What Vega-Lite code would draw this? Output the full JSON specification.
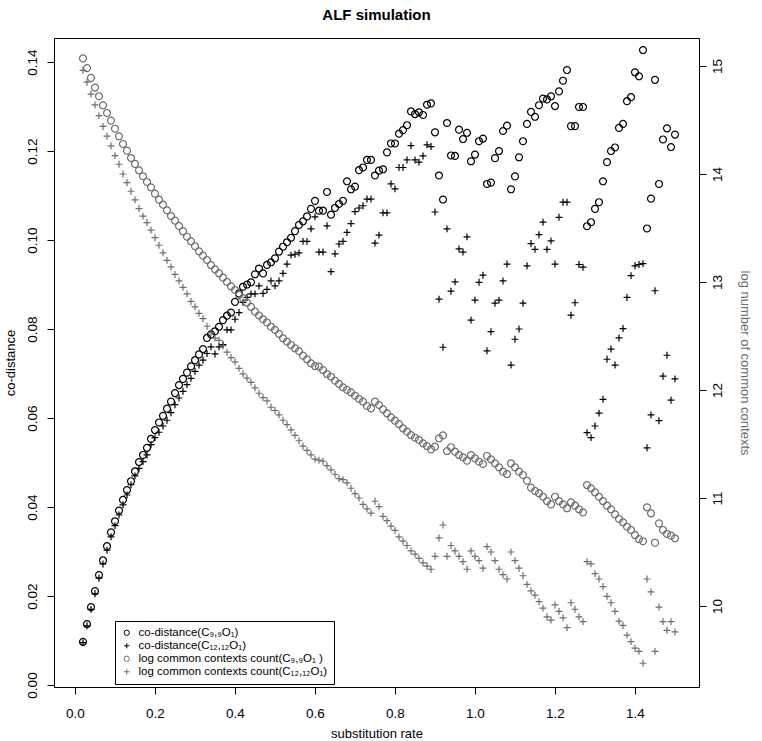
{
  "$schema": "https://vega.github.io/schema/vega-lite/v6.json",
  "width": 645,
  "height": 649,
  "autosize": {"type": "none"},
  "padding": {"left": 54, "top": 38, "right": 63, "bottom": 54},
  "background": "white",
  "title": {"text": "ALF simulation", "fontSize": 15, "fontWeight": "bold", "font": "Liberation Sans", "anchor": "middle", "offset": 15, "color": "black"},
  "config": {
    "font": "Liberation Sans",
    "view": {"stroke": "black", "strokeWidth": 1},
    "axis": {"grid": false, "domain": false, "tickColor": "black", "tickSize": 7, "tickWidth": 1, "labelColor": "black", "labelFontSize": 13.5, "titleFontSize": 13, "titleFontWeight": "normal", "titleColor": "black", "labelFont": "Liberation Sans", "titleFont": "Liberation Sans"},
    "legend": {"orient": "none", "legendX": 61, "legendY": 583, "strokeColor": "black", "strokeWidth": 1, "fillColor": "white", "padding": 6, "rowPadding": 0, "symbolSize": 28, "symbolStrokeWidth": 1, "labelFontSize": 11.5, "labelFont": "Liberation Sans", "labelOffset": 6, "labelLimit": 400}
  },
  "data": {"values": [
    {"rate":0.02,"cd9":0.0097,"cd12":0.0095,"lc9":15.07,"lc12":14.96},
    {"rate":0.03,"cd9":0.0137,"cd12":0.0133,"lc9":14.98,"lc12":14.85},
    {"rate":0.04,"cd9":0.0175,"cd12":0.0170,"lc9":14.89,"lc12":14.74},
    {"rate":0.05,"cd9":0.0211,"cd12":0.0205,"lc9":14.80,"lc12":14.64},
    {"rate":0.06,"cd9":0.0247,"cd12":0.0240,"lc9":14.72,"lc12":14.54},
    {"rate":0.07,"cd9":0.0280,"cd12":0.0272,"lc9":14.636,"lc12":14.44},
    {"rate":0.08,"cd9":0.0312,"cd12":0.0303,"lc9":14.565,"lc12":14.35},
    {"rate":0.09,"cd9":0.0343,"cd12":0.0333,"lc9":14.494,"lc12":14.26},
    {"rate":0.10,"cd9":0.0368,"cd12":0.0358,"lc9":14.419,"lc12":14.17},
    {"rate":0.11,"cd9":0.0392,"cd12":0.0382,"lc9":14.349,"lc12":14.09},
    {"rate":0.12,"cd9":0.0416,"cd12":0.0405,"lc9":14.278,"lc12":14.00},
    {"rate":0.13,"cd9":0.0438,"cd12":0.0427,"lc9":14.216,"lc12":13.92},
    {"rate":0.14,"cd9":0.0458,"cd12":0.0450,"lc9":14.148,"lc12":13.84},
    {"rate":0.15,"cd9":0.0480,"cd12":0.0470,"lc9":14.093,"lc12":13.76},
    {"rate":0.16,"cd9":0.0501,"cd12":0.0487,"lc9":14.034,"lc12":13.68},
    {"rate":0.17,"cd9":0.0517,"cd12":0.0502,"lc9":13.979,"lc12":13.61},
    {"rate":0.18,"cd9":0.0533,"cd12":0.0517,"lc9":13.926,"lc12":13.55},
    {"rate":0.19,"cd9":0.0553,"cd12":0.0540,"lc9":13.877,"lc12":13.48},
    {"rate":0.20,"cd9":0.0573,"cd12":0.0556,"lc9":13.818,"lc12":13.41},
    {"rate":0.21,"cd9":0.0590,"cd12":0.0568,"lc9":13.762,"lc12":13.34},
    {"rate":0.22,"cd9":0.0605,"cd12":0.0582,"lc9":13.716,"lc12":13.27},
    {"rate":0.23,"cd9":0.0621,"cd12":0.0595,"lc9":13.664,"lc12":13.20},
    {"rate":0.24,"cd9":0.0637,"cd12":0.0612,"lc9":13.611,"lc12":13.14},
    {"rate":0.25,"cd9":0.0656,"cd12":0.0630,"lc9":13.568,"lc12":13.07},
    {"rate":0.26,"cd9":0.0674,"cd12":0.0645,"lc9":13.519,"lc12":13.01},
    {"rate":0.27,"cd9":0.0688,"cd12":0.0660,"lc9":13.469,"lc12":12.95},
    {"rate":0.28,"cd9":0.0702,"cd12":0.0675,"lc9":13.419,"lc12":12.89},
    {"rate":0.29,"cd9":0.0716,"cd12":0.0689,"lc9":13.377,"lc12":12.82},
    {"rate":0.30,"cd9":0.0730,"cd12":0.0705,"lc9":13.331,"lc12":12.77},
    {"rate":0.31,"cd9":0.0743,"cd12":0.0719,"lc9":13.284,"lc12":12.71},
    {"rate":0.32,"cd9":0.0755,"cd12":0.0730,"lc9":13.244,"lc12":12.66},
    {"rate":0.33,"cd9":0.0780,"cd12":0.0745,"lc9":13.204,"lc12":12.59},
    {"rate":0.34,"cd9":0.0788,"cd12":0.0760,"lc9":13.157,"lc12":12.53},
    {"rate":0.35,"cd9":0.0795,"cd12":0.0744,"lc9":13.117,"lc12":12.48},
    {"rate":0.36,"cd9":0.0805,"cd12":0.0760,"lc9":13.080,"lc12":12.46},
    {"rate":0.37,"cd9":0.0820,"cd12":0.0765,"lc9":13.040,"lc12":12.41},
    {"rate":0.38,"cd9":0.0830,"cd12":0.0798,"lc9":13.000,"lc12":12.35},
    {"rate":0.39,"cd9":0.0837,"cd12":0.0798,"lc9":12.960,"lc12":12.30},
    {"rate":0.40,"cd9":0.0861,"cd12":0.0822,"lc9":12.926,"lc12":12.26},
    {"rate":0.41,"cd9":0.0880,"cd12":0.0837,"lc9":12.880,"lc12":12.20},
    {"rate":0.42,"cd9":0.0895,"cd12":0.0860,"lc9":12.850,"lc12":12.15},
    {"rate":0.43,"cd9":0.0900,"cd12":0.0871,"lc9":12.810,"lc12":12.11},
    {"rate":0.44,"cd9":0.0905,"cd12":0.0879,"lc9":12.770,"lc12":12.07},
    {"rate":0.45,"cd9":0.0923,"cd12":0.0879,"lc9":12.725,"lc12":12.02},
    {"rate":0.46,"cd9":0.0936,"cd12":0.0897,"lc9":12.690,"lc12":11.97},
    {"rate":0.47,"cd9":0.0925,"cd12":0.0880,"lc9":12.655,"lc12":11.93},
    {"rate":0.48,"cd9":0.0944,"cd12":0.0889,"lc9":12.625,"lc12":11.90},
    {"rate":0.49,"cd9":0.0950,"cd12":0.0908,"lc9":12.586,"lc12":11.84},
    {"rate":0.50,"cd9":0.0959,"cd12":0.0897,"lc9":12.556,"lc12":11.81},
    {"rate":0.51,"cd9":0.0974,"cd12":0.0908,"lc9":12.520,"lc12":11.77},
    {"rate":0.52,"cd9":0.0985,"cd12":0.0925,"lc9":12.479,"lc12":11.72},
    {"rate":0.53,"cd9":0.0995,"cd12":0.0946,"lc9":12.447,"lc12":11.68},
    {"rate":0.54,"cd9":0.1005,"cd12":0.0966,"lc9":12.417,"lc12":11.63},
    {"rate":0.55,"cd9":0.1020,"cd12":0.0968,"lc9":12.386,"lc12":11.58},
    {"rate":0.56,"cd9":0.1034,"cd12":0.0971,"lc9":12.360,"lc12":11.53},
    {"rate":0.57,"cd9":0.1042,"cd12":0.0997,"lc9":12.318,"lc12":11.48},
    {"rate":0.58,"cd9":0.1053,"cd12":0.0997,"lc9":12.284,"lc12":11.44},
    {"rate":0.59,"cd9":0.1070,"cd12":0.1025,"lc9":12.247,"lc12":11.40},
    {"rate":0.60,"cd9":0.1088,"cd12":0.1052,"lc9":12.222,"lc12":11.36},
    {"rate":0.61,"cd9":0.1066,"cd12":0.0973,"lc9":12.216,"lc12":11.35},
    {"rate":0.62,"cd9":0.1066,"cd12":0.0973,"lc9":12.185,"lc12":11.34},
    {"rate":0.63,"cd9":0.1108,"cd12":0.1032,"lc9":12.148,"lc12":11.30},
    {"rate":0.64,"cd9":0.1057,"cd12":0.0929,"lc9":12.123,"lc12":11.26},
    {"rate":0.65,"cd9":0.1072,"cd12":0.0969,"lc9":12.086,"lc12":11.22},
    {"rate":0.66,"cd9":0.1081,"cd12":0.0991,"lc9":12.056,"lc12":11.18},
    {"rate":0.67,"cd9":0.1088,"cd12":0.0997,"lc9":12.025,"lc12":11.17},
    {"rate":0.68,"cd9":0.1132,"cd12":0.1017,"lc9":12.000,"lc12":11.14},
    {"rate":0.69,"cd9":0.1114,"cd12":0.1037,"lc9":11.979,"lc12":11.09},
    {"rate":0.70,"cd9":0.1120,"cd12":0.1064,"lc9":11.947,"lc12":11.04},
    {"rate":0.71,"cd9":0.1157,"cd12":0.1072,"lc9":11.917,"lc12":11.00},
    {"rate":0.72,"cd9":0.1163,"cd12":0.1077,"lc9":11.892,"lc12":10.94},
    {"rate":0.73,"cd9":0.1180,"cd12":0.1092,"lc9":11.852,"lc12":10.90},
    {"rate":0.74,"cd9":0.1180,"cd12":0.1092,"lc9":11.830,"lc12":10.86},
    {"rate":0.75,"cd9":0.1145,"cd12":0.0993,"lc9":11.892,"lc12":10.97},
    {"rate":0.76,"cd9":0.1156,"cd12":0.1011,"lc9":11.861,"lc12":10.92},
    {"rate":0.77,"cd9":0.1159,"cd12":0.1061,"lc9":11.821,"lc12":10.83},
    {"rate":0.78,"cd9":0.1197,"cd12":0.1061,"lc9":11.784,"lc12":10.79},
    {"rate":0.79,"cd9":0.1217,"cd12":0.1126,"lc9":11.747,"lc12":10.74},
    {"rate":0.80,"cd9":0.1217,"cd12":0.1115,"lc9":11.716,"lc12":10.70},
    {"rate":0.81,"cd9":0.1239,"cd12":0.1163,"lc9":11.685,"lc12":10.64},
    {"rate":0.82,"cd9":0.1247,"cd12":0.1163,"lc9":11.645,"lc12":10.60},
    {"rate":0.83,"cd9":0.1258,"cd12":0.1180,"lc9":11.614,"lc12":10.56},
    {"rate":0.84,"cd9":0.1289,"cd12":0.1212,"lc9":11.583,"lc12":10.51},
    {"rate":0.85,"cd9":0.1283,"cd12":0.1180,"lc9":11.558,"lc12":10.48},
    {"rate":0.86,"cd9":0.1287,"cd12":0.1175,"lc9":11.537,"lc12":10.44},
    {"rate":0.87,"cd9":0.1281,"cd12":0.1189,"lc9":11.506,"lc12":10.40},
    {"rate":0.88,"cd9":0.1304,"cd12":0.1214,"lc9":11.481,"lc12":10.37},
    {"rate":0.89,"cd9":0.1307,"cd12":0.1210,"lc9":11.450,"lc12":10.34},
    {"rate":0.90,"cd9":0.1242,"cd12":0.1063,"lc9":11.475,"lc12":10.46},
    {"rate":0.91,"cd9":0.1145,"cd12":0.0867,"lc9":11.553,"lc12":10.63},
    {"rate":0.92,"cd9":0.1091,"cd12":0.0759,"lc9":11.580,"lc12":10.75},
    {"rate":0.93,"cd9":0.1263,"cd12":0.1025,"lc9":11.435,"lc12":10.46},
    {"rate":0.94,"cd9":0.1190,"cd12":0.0885,"lc9":11.470,"lc12":10.56},
    {"rate":0.95,"cd9":0.1189,"cd12":0.0906,"lc9":11.429,"lc12":10.51},
    {"rate":0.96,"cd9":0.1248,"cd12":0.0980,"lc9":11.398,"lc12":10.46},
    {"rate":0.97,"cd9":0.1227,"cd12":0.0973,"lc9":11.377,"lc12":10.41},
    {"rate":0.98,"cd9":0.1241,"cd12":0.1007,"lc9":11.345,"lc12":10.34},
    {"rate":0.99,"cd9":0.1177,"cd12":0.0820,"lc9":11.398,"lc12":10.51},
    {"rate":1.00,"cd9":0.1192,"cd12":0.0865,"lc9":11.367,"lc12":10.46},
    {"rate":1.01,"cd9":0.1222,"cd12":0.0905,"lc9":11.336,"lc12":10.42},
    {"rate":1.02,"cd9":0.1228,"cd12":0.0921,"lc9":11.315,"lc12":10.35},
    {"rate":1.03,"cd9":0.1126,"cd12":0.0751,"lc9":11.389,"lc12":10.55},
    {"rate":1.04,"cd9":0.1129,"cd12":0.0794,"lc9":11.358,"lc12":10.50},
    {"rate":1.05,"cd9":0.1184,"cd12":0.0858,"lc9":11.321,"lc12":10.42},
    {"rate":1.06,"cd9":0.1200,"cd12":0.0865,"lc9":11.284,"lc12":10.34},
    {"rate":1.07,"cd9":0.1245,"cd12":0.0908,"lc9":11.244,"lc12":10.29},
    {"rate":1.08,"cd9":0.1257,"cd12":0.0946,"lc9":11.222,"lc12":10.25},
    {"rate":1.09,"cd9":0.1114,"cd12":0.0719,"lc9":11.320,"lc12":10.50},
    {"rate":1.10,"cd9":0.1143,"cd12":0.0777,"lc9":11.284,"lc12":10.42},
    {"rate":1.11,"cd9":0.1186,"cd12":0.0800,"lc9":11.244,"lc12":10.35},
    {"rate":1.12,"cd9":0.1222,"cd12":0.0858,"lc9":11.213,"lc12":10.28},
    {"rate":1.13,"cd9":0.1261,"cd12":0.0942,"lc9":11.160,"lc12":10.20},
    {"rate":1.14,"cd9":0.1288,"cd12":0.0992,"lc9":11.096,"lc12":10.14},
    {"rate":1.15,"cd9":0.1277,"cd12":0.0979,"lc9":11.065,"lc12":10.10},
    {"rate":1.16,"cd9":0.1303,"cd12":0.1012,"lc9":11.043,"lc12":10.04},
    {"rate":1.17,"cd9":0.1318,"cd12":0.1040,"lc9":11.012,"lc12":9.98},
    {"rate":1.18,"cd9":0.1316,"cd12":0.0979,"lc9":10.972,"lc12":9.90},
    {"rate":1.19,"cd9":0.1323,"cd12":0.0998,"lc9":10.941,"lc12":9.87},
    {"rate":1.20,"cd9":0.1301,"cd12":0.0946,"lc9":11.012,"lc12":10.01},
    {"rate":1.21,"cd9":0.1334,"cd12":0.1051,"lc9":10.972,"lc12":9.95},
    {"rate":1.22,"cd9":0.1358,"cd12":0.1085,"lc9":10.941,"lc12":9.89},
    {"rate":1.23,"cd9":0.1382,"cd12":0.1085,"lc9":10.905,"lc12":9.80},
    {"rate":1.24,"cd9":0.1256,"cd12":0.0831,"lc9":10.960,"lc12":10.03},
    {"rate":1.25,"cd9":0.1256,"cd12":0.0859,"lc9":10.929,"lc12":9.97},
    {"rate":1.26,"cd9":0.1299,"cd12":0.0945,"lc9":10.895,"lc12":9.90},
    {"rate":1.27,"cd9":0.1299,"cd12":0.0939,"lc9":10.867,"lc12":9.855},
    {"rate":1.28,"cd9":0.1031,"cd12":0.0567,"lc9":11.120,"lc12":10.41},
    {"rate":1.29,"cd9":0.1040,"cd12":0.0556,"lc9":11.090,"lc12":10.39},
    {"rate":1.30,"cd9":0.1070,"cd12":0.0582,"lc9":11.053,"lc12":10.30},
    {"rate":1.31,"cd9":0.1085,"cd12":0.0611,"lc9":11.012,"lc12":10.25},
    {"rate":1.32,"cd9":0.1132,"cd12":0.0642,"lc9":10.972,"lc12":10.18},
    {"rate":1.33,"cd9":0.1175,"cd12":0.0732,"lc9":10.929,"lc12":10.09},
    {"rate":1.34,"cd9":0.1200,"cd12":0.0755,"lc9":10.895,"lc12":10.03},
    {"rate":1.35,"cd9":0.1208,"cd12":0.0719,"lc9":10.849,"lc12":9.95},
    {"rate":1.36,"cd9":0.1252,"cd12":0.0780,"lc9":10.806,"lc12":9.86},
    {"rate":1.37,"cd9":0.1261,"cd12":0.0801,"lc9":10.775,"lc12":9.82},
    {"rate":1.38,"cd9":0.1312,"cd12":0.0871,"lc9":10.734,"lc12":9.73},
    {"rate":1.39,"cd9":0.1321,"cd12":0.0920,"lc9":10.704,"lc12":9.67},
    {"rate":1.40,"cd9":0.1377,"cd12":0.0942,"lc9":10.657,"lc12":9.61},
    {"rate":1.41,"cd9":0.1368,"cd12":0.0945,"lc9":10.620,"lc12":9.58},
    {"rate":1.42,"cd9":0.1427,"cd12":0.0947,"lc9":10.600,"lc12":9.47},
    {"rate":1.43,"cd9":0.1026,"cd12":0.0533,"lc9":10.914,"lc12":10.25},
    {"rate":1.44,"cd9":0.1093,"cd12":0.0607,"lc9":10.858,"lc12":10.13},
    {"rate":1.45,"cd9":0.1360,"cd12":0.0886,"lc9":10.586,"lc12":9.58},
    {"rate":1.46,"cd9":0.1126,"cd12":0.0594,"lc9":10.765,"lc12":9.99},
    {"rate":1.47,"cd9":0.1226,"cd12":0.0694,"lc9":10.704,"lc12":9.855},
    {"rate":1.48,"cd9":0.1251,"cd12":0.0741,"lc9":10.667,"lc12":9.775},
    {"rate":1.49,"cd9":0.1209,"cd12":0.0640,"lc9":10.651,"lc12":9.855},
    {"rate":1.50,"cd9":0.1237,"cd12":0.0688,"lc9":10.627,"lc12":9.76}
  ]},
  "encoding": {
    "x": {"field": "rate", "type": "quantitative", "scale": {"domain": [-0.0525, 1.56], "nice": false, "zero": false},
      "axis": {"title": "substitution rate", "values": [0, 0.2, 0.4, 0.6, 0.8, 1.0, 1.2, 1.4], "format": ".1f", "labelPadding": 12, "titlePadding": 8, "labelFlush": false}}
  },
  "layer": [
    {
      "transform": [{"fold": ["cd9", "cd12"], "as": ["series", "value"]}],
      "mark": {"type": "point", "filled": false, "size": 48, "strokeWidth": 1.2, "opacity": 1},
      "encoding": {
        "y": {"field": "value", "type": "quantitative", "scale": {"domain": [-0.00045, 0.1454], "nice": false, "zero": false},
          "axis": {"orient": "left", "title": "co-distance", "values": [0, 0.02, 0.04, 0.06, 0.08, 0.1, 0.12, 0.14], "format": ".2f", "labelAngle": -90, "labelAlign": "center", "labelBaseline": "bottom", "labelPadding": 8, "titlePadding": 8, "labelFlush": false}},
        "color": {"field": "series", "type": "nominal",
          "scale": {"domain": ["cd9", "cd12", "lc9", "lc12"], "range": ["#000000", "#000000", "#6e6e6e", "#6e6e6e"]},
          "legend": {"title": null,
            "labelExpr": "datum.value == 'cd9' ? 'co-distance(C₉,₉O₁)' : datum.value == 'cd12' ? 'co-distance(C₁₂,₁₂O₁)' : datum.value == 'lc9' ? 'log common contexts count(C₉,₉O₁ )' : 'log common contexts count(C₁₂,₁₂O₁)'",
            "encode": {"labels": {"update": {"fill": {"signal": "(datum.value == 'lc9' || datum.value == 'lc12') ? '#6e6e6e' : '#000000'"}}}}}},
        "shape": {"field": "series", "type": "nominal",
          "scale": {"domain": ["cd9", "cd12", "lc9", "lc12"], "range": ["circle", "M-1,0H1M0,-1V1", "circle", "M-1,0H1M0,-1V1"]},
          "legend": {"title": null}}
      }
    },
    {
      "transform": [{"fold": ["lc9", "lc12"], "as": ["series", "value"]}],
      "mark": {"type": "point", "filled": false, "size": 48, "strokeWidth": 1.2, "opacity": 1},
      "encoding": {
        "y": {"field": "value", "type": "quantitative", "scale": {"domain": [9.25, 15.259], "nice": false, "zero": false},
          "axis": {"orient": "right", "title": "log number of common contexts", "titleColor": "#6e6e6e", "values": [10, 11, 12, 13, 14, 15], "format": "d", "labelAngle": -90, "labelAlign": "center", "labelBaseline": "top", "labelPadding": 4, "titlePadding": 14, "labelFlush": false}},
        "color": {"field": "series", "type": "nominal"},
        "shape": {"field": "series", "type": "nominal"}
      }
    }
  ],
  "resolve": {"scale": {"y": "independent"}}
}
